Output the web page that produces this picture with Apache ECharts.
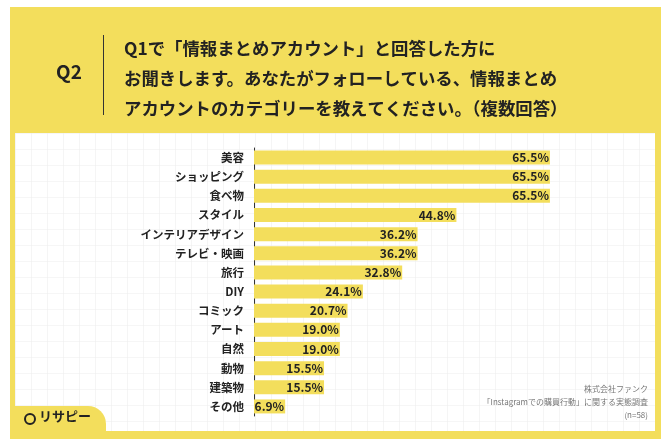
<!DOCTYPE html>
<html><head><meta charset="utf-8">
<script src="https://cdn.jsdelivr.net/npm/echarts@6/dist/echarts.min.js"></script>
<style>html,body{margin:0;padding:0;background:#fff}#c{width:671px;height:446px}</style>
</head><body><div id="c"></div>
<script>
var categories=["美容","ショッピング","食べ物","スタイル","インテリアデザイン","テレビ・映画","旅行","DIY","コミック","アート","自然","動物","建築物","その他"];
var values=[65.5,65.5,65.5,44.8,36.2,36.2,32.8,24.1,20.7,19.0,19.0,15.5,15.5,6.9];
var titleLines=["Q1で「情報まとめアカウント」と回答した方に","お聞きします。あなたがフォローしている、情報まとめ","アカウントのカテゴリーを教えてください。（複数回答）"];
var noteLines=["株式会社ファンク","「Instagramでの購買行動」に関する実態調査","(n=58)"];
var font='"Noto Sans CJK JP", sans-serif';
var Y='#f3de5c';
var chart=echarts.init(document.getElementById('c'));
var g=[
 {type:'rect',shape:{x:10,y:7,width:651,height:432},style:{fill:Y},z:-10},
 {type:'rect',shape:{x:15,y:133,width:640,height:298},style:{fill:'#fff'},z:-9},
 {type:'rect',shape:{x:14,y:406,width:92,height:27,r:[0,18,0,0]},style:{fill:Y},z:-8},
 {type:'text',left:56,top:62,style:{text:'Q2',font:'bold 19px '+font,fill:'#222'}},
 {type:'rect',shape:{x:103,y:35,width:1,height:80},style:{fill:'#333'}},
 {type:'text',left:124,top:33,style:{text:titleLines.join('\n'),font:'bold 17.4px '+font,lineHeight:30,fill:'#222'}},
 {type:'circle',shape:{cx:30,cy:420},style:{fill:'none'}},
 {type:'circle',shape:{cx:30,cy:419,r:5},style:{fill:'none',stroke:'#222',lineWidth:2}},
 {type:'text',left:39,top:410,style:{text:'リサピー',font:'bold 13px '+font,fill:'#222'}}
];
for(var k=0;k<noteLines.length;k++){g.push({type:'text',x:648,y:385+k*13,style:{text:noteLines[k],font:'8px '+font,fill:'#777',align:'right'}});}
for(var i=0;i<40;i++){g.push({type:'rect',shape:{x:15+i*16,y:133,width:0.6,height:298},style:{fill:'#eee'},z:-8.5});}
for(var j=0;j<19;j++){g.push({type:'rect',shape:{x:15,y:133+j*16,width:640,height:0.6},style:{fill:'#eee'},z:-8.5});}
chart.setOption({
 animation:false,
 graphic:g,
 grid:{left:254,top:148,width:300,height:268},
 xAxis:{type:'value',min:0,max:66.4,show:false},
 yAxis:{type:'category',data:categories,inverse:true,axisTick:{show:false},
   axisLine:{lineStyle:{color:'#333',width:1}},
   axisLabel:{color:'#222',fontSize:11.5,fontWeight:'bold',fontFamily:font,margin:10}},
 series:[{type:'bar',data:values,barWidth:14,itemStyle:{color:Y},
   label:{show:true,position:'insideRight',offset:[4,0],formatter:function(p){return p.value.toFixed(1)+'%';},
     color:'#222',fontWeight:'bold',fontSize:12,fontFamily:font}}]
});
</script></body></html>
